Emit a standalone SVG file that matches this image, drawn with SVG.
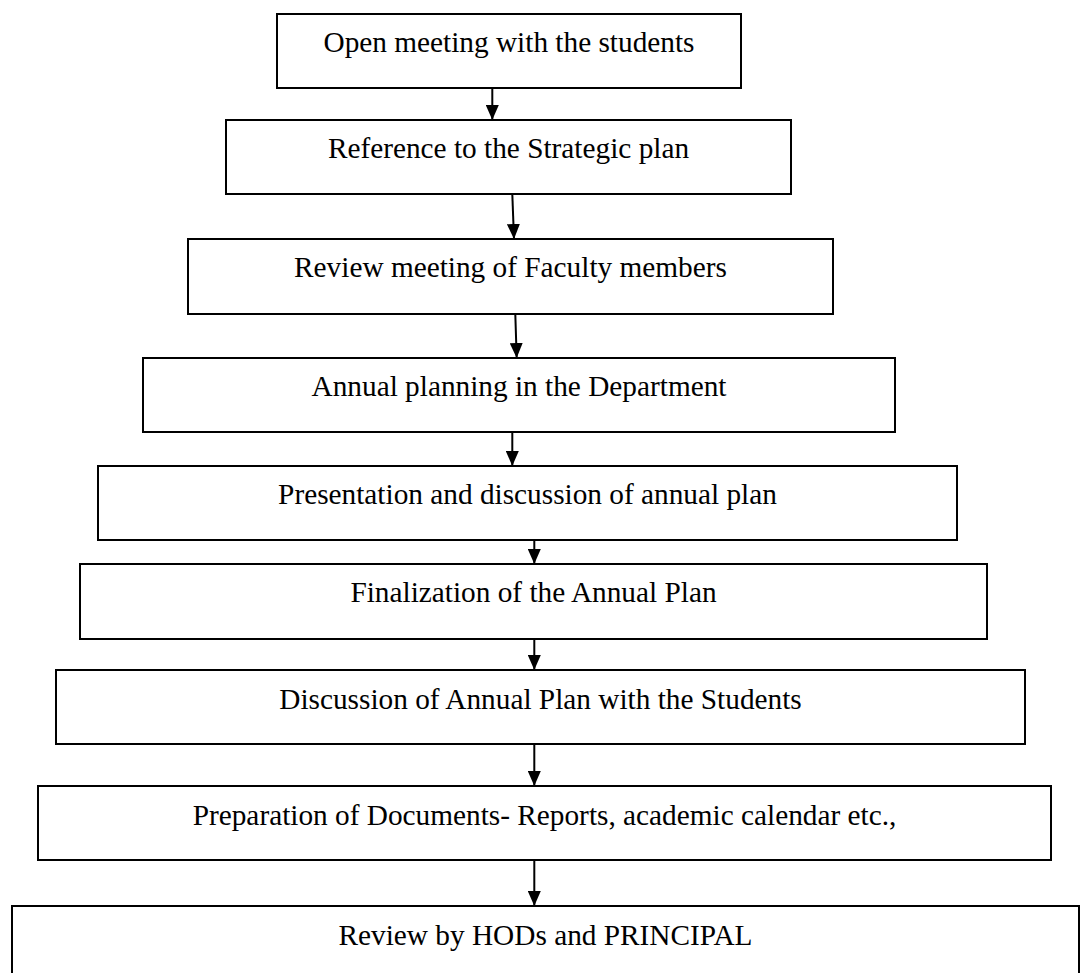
<svg xmlns="http://www.w3.org/2000/svg" width="1080" height="973" viewBox="0 0 1080 973">
<style>
.box{fill:#fff;stroke:#000;stroke-width:2}
.lbl{font-family:"Liberation Serif","Times New Roman",serif;font-size:29.3px;fill:#000;text-anchor:middle}
.con{stroke:#000;stroke-width:2;fill:none;marker-end:url(#ah)}
</style>
<defs>
<marker id="ah" viewBox="0 0 15 13" refX="15" refY="6.5" markerWidth="15" markerHeight="13" markerUnits="userSpaceOnUse" orient="auto">
<path d="M0,0 L15,6.5 L0,13 Z" fill="#000"/>
</marker>
</defs>
<rect width="1080" height="973" fill="#fff"/>
<g id="n1"><rect class="box" x="277" y="14" width="464" height="74"/><text class="lbl" x="509" y="52">Open meeting with the students</text></g>
<g id="n2"><rect class="box" x="226" y="120" width="565" height="74"/><text class="lbl" x="508.5" y="158">Reference to the Strategic plan</text></g>
<g id="n3"><rect class="box" x="188" y="239" width="645" height="75"/><text class="lbl" x="510.5" y="277">Review meeting of Faculty members</text></g>
<g id="n4"><rect class="box" x="143" y="358" width="752" height="74"/><text class="lbl" x="519" y="396">Annual planning in the Department</text></g>
<g id="n5"><rect class="box" x="98" y="466" width="859" height="74"/><text class="lbl" x="527.5" y="504">Presentation and discussion of annual plan</text></g>
<g id="n6"><rect class="box" x="80" y="564" width="907" height="75"/><text class="lbl" x="533.5" y="602">Finalization of the Annual Plan</text></g>
<g id="n7"><rect class="box" x="56" y="670" width="969" height="74"/><text class="lbl" x="540.5" y="709">Discussion of Annual Plan with the Students</text></g>
<g id="n8"><rect class="box" x="38" y="786" width="1013" height="74"/><text class="lbl" x="544.5" y="825">Preparation of Documents- Reports, academic calendar etc.,</text></g>
<g id="n9"><rect class="box" x="12" y="906" width="1067" height="90"/><text class="lbl" x="545.5" y="945">Review by HODs and PRINCIPAL</text></g>
<g id="connectors">
<line class="con" x1="492.3" y1="88" x2="492.3" y2="120"/>
<line class="con" x1="512.3" y1="194" x2="514" y2="239"/>
<line class="con" x1="515.3" y1="314" x2="516.7" y2="358"/>
<line class="con" x1="512.3" y1="432" x2="512.3" y2="466"/>
<line class="con" x1="534.3" y1="540" x2="534.3" y2="564"/>
<line class="con" x1="534.3" y1="639" x2="534.3" y2="670"/>
<line class="con" x1="534.3" y1="744" x2="534.3" y2="786"/>
<line class="con" x1="534.3" y1="860" x2="534.3" y2="906"/>
</g>
</svg>
